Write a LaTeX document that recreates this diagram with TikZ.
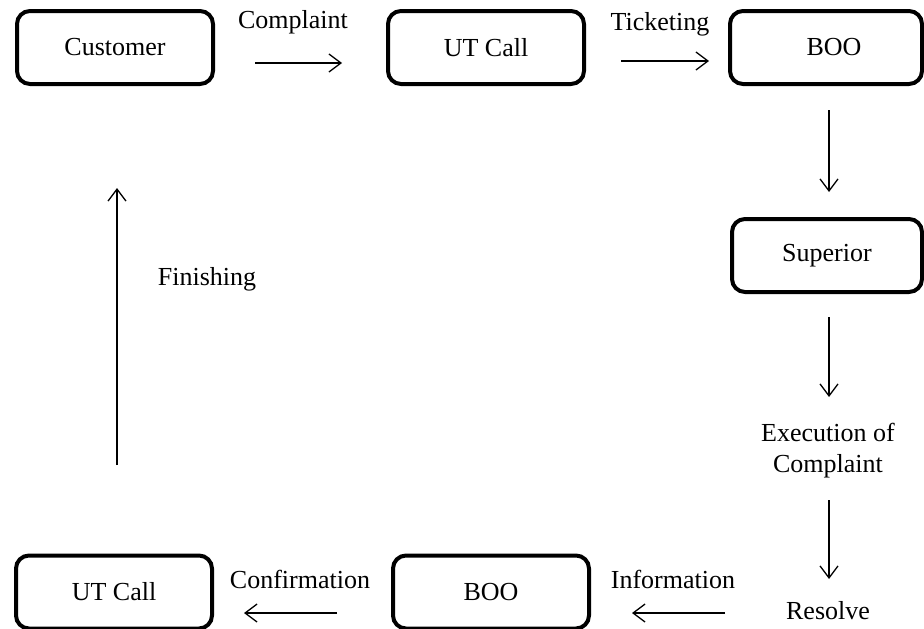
\documentclass[tikz,border=0pt]{standalone}
\usepackage{fontspec}
\setmainfont{Liberation Serif}
\usetikzlibrary{arrows.meta}
\begin{document}
\begin{tikzpicture}[x=1pt,y=-1pt,
  box/.style={draw,line width=4pt,rounded corners=13pt,minimum height=73pt,inner sep=0pt,font=\fontsize{26}{31}\selectfont},
  lbl/.style={inner sep=0pt,font=\fontsize{26}{31}\selectfont},
  arr/.style={line width=1.3pt,-{Straight Barb[length=12pt,width=18pt,line width=1.3pt]}}]
\clip (0,0) rectangle (924,629);
\fill[white] (0,0) rectangle (924,629);
% boxes
\node[box,minimum width=196pt] (cust) at (115,47.5) {Customer};
\node[box,minimum width=196pt] (ut1) at (486,47.5) {UT Call};
\node[box,minimum width=192pt] (boo1) at (826,47.5) {\hspace{16pt}BOO};
\node[box,minimum width=190pt] (sup) at (827,255.5) {Superior\hspace{8pt}};
\node[box,minimum width=196pt] (ut2) at (114,592) {UT Call};
\node[box,minimum width=196pt] (boo2) at (491,592) {BOO};
% labels
\node[lbl] (lcomp) at (293,22) {Complaint};
\node[lbl] (ltick) at (660,24) {Ticketing};
\node[lbl,align=center] (exec) at (828,451) {Execution of\\Complaint};
\node[lbl] (res) at (828,611) {Resolve};
\node[lbl] (linfo) at (673,579) {Information};
\node[lbl] (lconf) at (300,579) {Confirmation};
\node[lbl] (lfin) at (207,279) {Finishing};
% arrow end points
\coordinate (a1s) at (255,63); \coordinate (a1e) at (342,63);
\coordinate (a2s) at (621,61); \coordinate (a2e) at (709,61);
\coordinate (a3s) at (829,110); \coordinate (a3e) at (829,192);
\coordinate (a4s) at (829,317); \coordinate (a4e) at (829,397);
\coordinate (a5s) at (829,500); \coordinate (a5e) at (829,579);
\coordinate (a6s) at (725,613); \coordinate (a6e) at (632,613);
\coordinate (a7s) at (337,613); \coordinate (a7e) at (244,613);
\coordinate (a8s) at (117,465); \coordinate (a8e) at (117,188);
\draw[arr] (a1s) -- (a1e);
\draw[arr] (a2s) -- (a2e);
\draw[arr] (a3s) -- (a3e);
\draw[arr] (a4s) -- (a4e);
\draw[arr] (a5s) -- (a5e);
\draw[arr] (a6s) -- (a6e);
\draw[arr] (a7s) -- (a7e);
\draw[arr] (a8s) -- (a8e);
\end{tikzpicture}
\end{document}
